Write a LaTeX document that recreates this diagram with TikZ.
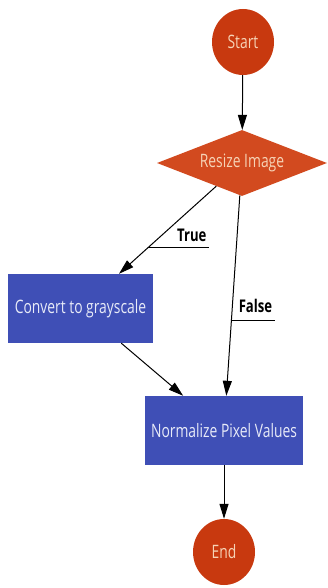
\documentclass[tikz,border=0pt]{standalone}
\usepackage{fontspec}
\setmainfont{Open Sans}[FakeStretch=0.75]
\newfontfamily\labelfont{Open Sans}[FakeStretch=0.75]
\usetikzlibrary{shapes.geometric,arrows.meta}

\definecolor{termred}{HTML}{C8390F}
\definecolor{decisionred}{HTML}{D24A1F}
\definecolor{peach}{HTML}{F6D3B6}
\definecolor{stepblue}{HTML}{3F4FB6}
\definecolor{steptext}{HTML}{E8EBF8}

\tikzset{
  terminal/.style={ellipse, fill=termred, text=peach, minimum width=62pt,
    minimum height=66pt, inner sep=0pt, font=\fontsize{18.5}{22}\selectfont},
  decision/.style={diamond, aspect=2.58, fill=decisionred, text=peach,
    minimum width=170pt, minimum height=66pt, inner sep=0pt,
    font=\fontsize{18.5}{22}\selectfont},
  stepbox/.style={rectangle, fill=stepblue, text=steptext, minimum height=69pt,
    inner sep=0pt, font=\fontsize{18.5}{22}\selectfont},
  flow/.style={draw=black, line width=1pt,
    -{Triangle[length=15pt,width=9pt]}},
  tag/.style={font=\labelfont\bfseries\fontsize{17.5}{20}\selectfont,
    anchor=south east, inner sep=0pt},
  tagline/.style={draw=black, line width=1pt}
}

\begin{document}
\begin{tikzpicture}[x=1pt,y=-1pt]
  \useasboundingbox (0,0) rectangle (327,588);

  \node[terminal] (start) at (243,42) {Start};
  \node[decision] (resize) at (242,163) {Resize Image};
  \node[stepbox, minimum width=145pt] (gray) at (80.5,308.5) {Convert to grayscale};
  \node[stepbox, minimum width=158pt] (norm) at (224,430.5) {Normalize Pixel Values};
  \node[terminal] (end) at (224,552) {End};

  \draw[flow] (start) -- (resize);
  \draw[flow] (resize) -- coordinate[pos=0.705] (truept) (gray);
  \draw[flow] (resize) -- coordinate[pos=0.625] (falsept) (norm);
  \draw[flow] (gray) -- (norm);
  \draw[flow] (norm) -- (end);

  % branch labels with their leader lines
  \draw[tagline] (truept) -- ++(61,0) coordinate (trueend);
  \node[tag] (truelbl) at ([xshift=-2pt,yshift=6pt]trueend) {True};
  \draw[tagline] (falsept) -- ++(44,0) coordinate (falseend);
  \node[tag] (falselbl) at ([xshift=-3pt,yshift=8pt]falseend) {False};
\end{tikzpicture}
\end{document}
